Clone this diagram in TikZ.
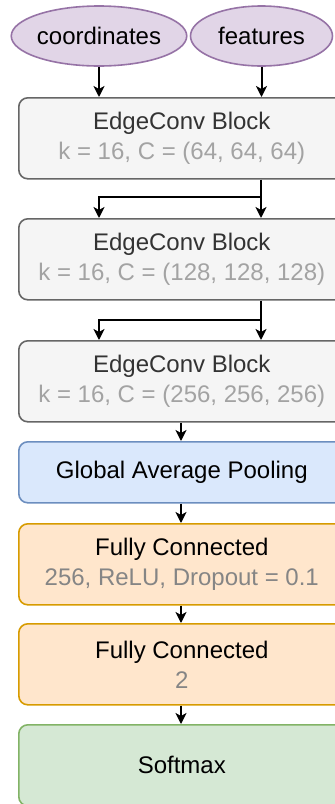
\documentclass[tikz,border=0pt]{standalone}
\usepackage{fontspec}
\setmainfont{Liberation Sans}
\usetikzlibrary{shapes.geometric,arrows.meta}
\definecolor{grayfill}{HTML}{F5F5F5}
\definecolor{graydraw}{HTML}{666666}
\definecolor{graytext}{HTML}{333333}
\definecolor{subgray}{HTML}{A3A3A3}
\definecolor{subfc}{HTML}{858585}
\definecolor{purfill}{HTML}{E1D5E7}
\definecolor{purdraw}{HTML}{9673A6}
\definecolor{bluefill}{HTML}{DAE8FC}
\definecolor{bluedraw}{HTML}{6C8EBF}
\definecolor{orfill}{HTML}{FFE6CC}
\definecolor{ordraw}{HTML}{D79B00}
\definecolor{grfill}{HTML}{D5E8D4}
\definecolor{grdraw}{HTML}{82B366}
\tikzset{
  x=1pt, y=-1pt,
  txt/.style={font=\fontsize{24}{30}\selectfont, align=center},
  blockbox/.style={txt, rectangle, rounded corners=9pt, line width=1.6pt,
    minimum width=326pt, minimum height=81pt, inner sep=0pt, anchor=north west},
  edgebox/.style={blockbox, fill=grayfill, draw=graydraw, text=graytext},
  gapbox/.style={blockbox, fill=bluefill, draw=bluedraw, minimum height=61pt},
  fcbox/.style={blockbox, fill=orfill, draw=ordraw},
  smbox/.style={blockbox, fill=grfill, draw=grdraw},
  inbox/.style={txt, ellipse, fill=purfill, draw=purdraw, line width=1.6pt,
    minimum width=142pt, minimum height=60pt, inner sep=0pt},
  conn/.style={line width=2pt, -{Stealth[length=11pt,width=11pt,inset=3pt]}},
  plain/.style={line width=2pt}
}
\begin{document}
\begin{tikzpicture}
\useasboundingbox (0,0) rectangle (335,804);
\clip (0,0) rectangle (335,804);
\node[inbox] (coord) at (99,36) {coordinates};
\node[inbox] (feat) at (261.5,36) {features};
\node[edgebox] (e1) at (18,97) {EdgeConv Block\\\textcolor{subgray}{k = 16, C = (64, 64, 64)}};
\node[edgebox] (e2) at (18,218) {EdgeConv Block\\\textcolor{subgray}{k = 16, C = (128, 128, 128)}};
\node[edgebox] (e3) at (18,340) {EdgeConv Block\\\textcolor{subgray}{k = 16, C = (256, 256, 256)}};
\node[gapbox] (gap) at (18,441) {Global Average Pooling};
\node[fcbox] (fc1) at (18,523) {Fully Connected\\\textcolor{subfc}{256, ReLU, Dropout = 0.1}};
\node[fcbox] (fc2) at (18,623) {Fully Connected\\\textcolor{subfc}{2}};
\node[smbox] (sm) at (18,724) {Softmax};
% inputs
\draw[conn] (coord.south) -- (coord.south |- e1.north);
\draw[conn] (feat.south) -- (feat.south |- e1.north);
% block 1 -> block 2
\coordinate (s1) at (261,197);
\coordinate (s1l) at (99,197);
\draw[plain] (e1.south -| s1) -- (s1);
\draw[conn] (s1) -- (s1 |- e2.north);
\draw[conn] (s1) -- (s1l) -- (s1l |- e2.north);
% block 2 -> block 3
\coordinate (s2) at (261,320);
\coordinate (s2l) at (99,320);
\draw[plain] (e2.south -| s2) -- (s2);
\draw[conn] (s2) -- (s2 |- e3.north);
\draw[conn] (s2) -- (s2l) -- (s2l |- e3.north);
% chain
\coordinate (cx) at (181,0);
\draw[conn] (e3.south -| cx) -- (gap.north -| cx);
\draw[conn] (gap.south -| cx) -- (fc1.north -| cx);
\draw[conn] (fc1.south -| cx) -- (fc2.north -| cx);
\draw[conn] (fc2.south -| cx) -- (sm.north -| cx);
\end{tikzpicture}
\end{document}
